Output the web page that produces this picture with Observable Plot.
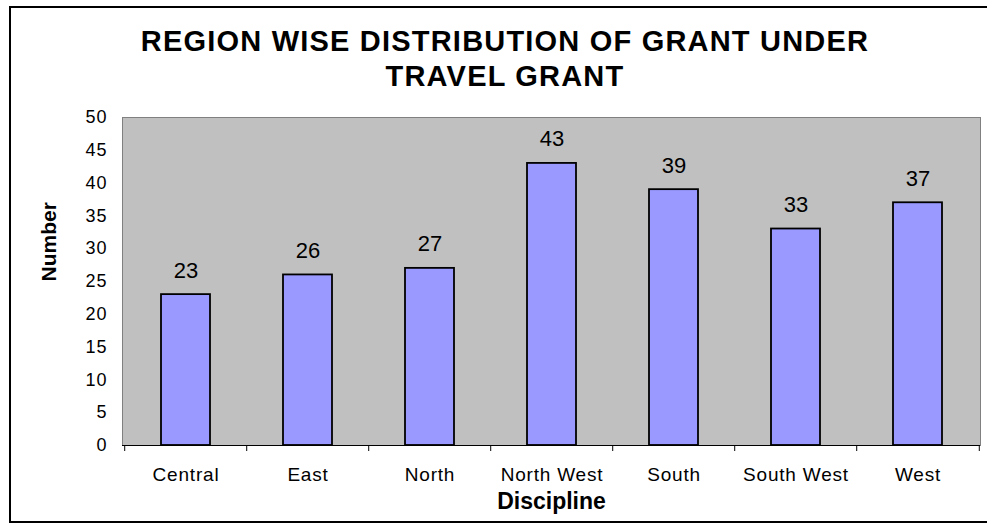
<!DOCTYPE html>
<html>
<head>
<meta charset="utf-8">
<script src="https://cdn.jsdelivr.net/npm/d3@7"></script>
<script src="https://cdn.jsdelivr.net/npm/@observablehq/plot@0.6"></script>
<style>
  html, body { margin: 0; padding: 0; background: #fff; }
  #wrap { position: relative; width: 987px; height: 523px; overflow: hidden; font-family: "Liberation Sans", Arial, sans-serif; }
  #border { position: absolute; left: 9px; top: 6px; width: 1010px; height: 517px; border: 2px solid #000; box-sizing: border-box; }
  #title { position: absolute; left: 9px; top: 0; width: 992px; padding-top: 24px; text-align: center;
           font-weight: bold; font-size: 29px; line-height: 35px; letter-spacing: 1.2px; color: #000; }
  #chart { position: absolute; left: 0; top: 100px; }
  #chart svg { overflow: visible; }
  g[aria-label="x-axis tick label"] text { letter-spacing: 0.8px; }
  g[aria-label="y-axis tick label"] text { letter-spacing: 1px; }
  g[aria-label="value label"] text { letter-spacing: 1px; }
  g[aria-label="x title"] text { letter-spacing: 2px; }
  g[aria-label="y title"] text { letter-spacing: 1px; }
</style>
</head>
<body>
<div id="wrap">
  <div id="border"></div>
  <div id="title">REGION WISE DISTRIBUTION OF GRANT UNDER<br>TRAVEL GRANT</div>
  <div id="chart"></div>
</div>
<script>
const categories = ["Central", "East", "North", "North West", "South", "South West", "West"];
const values = [23, 26, 27, 43, 39, 33, 37];
const yTicks = [0, 5, 10, 15, 20, 25, 30, 35, 40, 45, 50];
const xTitle = "Discipline";
const yTitle = "Number";

const data = categories.map((c, i) => ({region: c, value: values[i]}));

const W = 987, H = 423, mL = 122, mR = 7, mT = 17, mB = 78;
const step = (W - mL - mR) / categories.length;

const chart = Plot.plot({
  width: W, height: H,
  marginTop: mT, marginBottom: mB, marginLeft: mL, marginRight: mR,
  style: {fontFamily: "'Liberation Sans', Arial, sans-serif", fontSize: "18px", background: "transparent", color: "#000"},
  x: {type: "band", domain: categories, paddingInner: 0.6, paddingOuter: 0.3},
  y: {domain: [0, 50]},
  marks: [
    Plot.frame({fill: "#C0C0C0", stroke: "#808080"}),
    Plot.barY(data, {x: "region", y: "value", fill: "#9999FF", stroke: "#000", strokeWidth: 1.8}),
    Plot.ruleY([0], {stroke: "#000"}),
    Plot.ruleX(categories, {x: d => d, y1: 0, y2: 0, insetTop: 0, insetBottom: -6, dx: -step / 2, stroke: "#000"}),
    Plot.ruleX([categories[categories.length - 1]], {x: d => d, y1: 0, y2: 0, insetTop: 0, insetBottom: -6, dx: step / 2, stroke: "#000"}),
    Plot.axisX({tickSize: 0, tickPadding: 22, fontSize: 19, label: null}),
    Plot.axisY({ticks: yTicks, tickSize: 0, tickPadding: 15, fontSize: 18, label: null}),
    Plot.text(data, {x: "region", y: "value", text: d => String(d.value), lineAnchor: "bottom", dy: -17, fontSize: 22, ariaLabel: "value label"}),
    Plot.text([yTitle], {frameAnchor: "left", text: d => d, rotate: -90, dx: -73, fontSize: 21, fontWeight: "bold", ariaLabel: "y title"}),
    Plot.text([xTitle], {frameAnchor: "bottom", text: d => d, lineAnchor: "bottom", dy: 63, fontSize: 23, fontWeight: "bold", ariaLabel: "x title"})
  ]
});
document.getElementById("chart").appendChild(chart);
</script>
</body>
</html>
